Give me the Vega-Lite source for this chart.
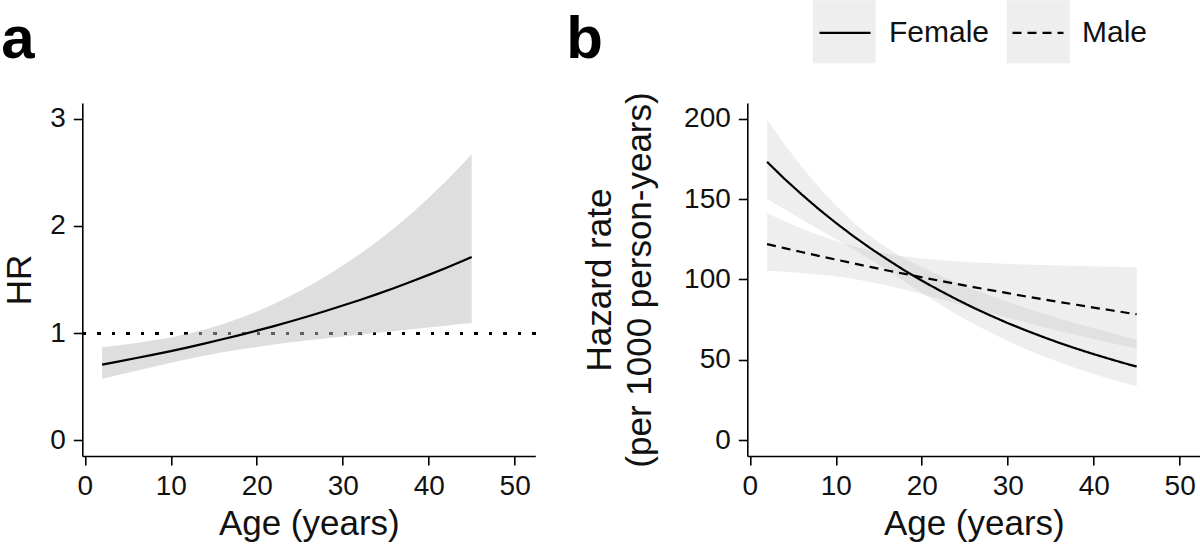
{
  "$schema": "https://vega.github.io/schema/vega-lite/v6.json",
  "padding": {"left": 1.3, "top": 0, "right": 0, "bottom": 0},
  "bounds": "flush",
  "spacing": 212,
  "datasets": {
    "hr": [
      {"age": 2, "hr": 0.707, "lo": 0.576, "hi": 0.868},
      {"age": 4, "hr": 0.737, "lo": 0.612, "hi": 0.887},
      {"age": 6, "hr": 0.768, "lo": 0.649, "hi": 0.908},
      {"age": 8, "hr": 0.8, "lo": 0.686, "hi": 0.933},
      {"age": 10, "hr": 0.833, "lo": 0.723, "hi": 0.96},
      {"age": 12, "hr": 0.868, "lo": 0.758, "hi": 0.994},
      {"age": 14, "hr": 0.905, "lo": 0.791, "hi": 1.035},
      {"age": 16, "hr": 0.943, "lo": 0.821, "hi": 1.083},
      {"age": 18, "hr": 0.982, "lo": 0.848, "hi": 1.138},
      {"age": 20, "hr": 1.023, "lo": 0.871, "hi": 1.201},
      {"age": 22, "hr": 1.066, "lo": 0.894, "hi": 1.272},
      {"age": 24, "hr": 1.111, "lo": 0.914, "hi": 1.35},
      {"age": 26, "hr": 1.157, "lo": 0.933, "hi": 1.435},
      {"age": 28, "hr": 1.206, "lo": 0.951, "hi": 1.529},
      {"age": 30, "hr": 1.257, "lo": 0.969, "hi": 1.63},
      {"age": 32, "hr": 1.309, "lo": 0.986, "hi": 1.738},
      {"age": 34, "hr": 1.364, "lo": 1.003, "hi": 1.855},
      {"age": 36, "hr": 1.421, "lo": 1.02, "hi": 1.98},
      {"age": 38, "hr": 1.481, "lo": 1.037, "hi": 2.116},
      {"age": 40, "hr": 1.543, "lo": 1.053, "hi": 2.261},
      {"age": 42, "hr": 1.608, "lo": 1.07, "hi": 2.416},
      {"age": 44, "hr": 1.675, "lo": 1.087, "hi": 2.582},
      {"age": 45, "hr": 1.71, "lo": 1.095, "hi": 2.67}
    ],
    "haz": [
      {"age": 2, "sex": "Female", "rate": 173.1, "lo": 150.2, "hi": 199.5},
      {"age": 4, "sex": "Female", "rate": 162.7, "lo": 143.7, "hi": 184.2},
      {"age": 6, "sex": "Female", "rate": 153.0, "lo": 137.5, "hi": 170.2},
      {"age": 8, "sex": "Female", "rate": 143.8, "lo": 131.3, "hi": 157.5},
      {"age": 10, "sex": "Female", "rate": 135.2, "lo": 125.2, "hi": 146.0},
      {"age": 12, "sex": "Female", "rate": 127.1, "lo": 119.0, "hi": 135.8},
      {"age": 14, "sex": "Female", "rate": 119.5, "lo": 112.5, "hi": 127.0},
      {"age": 16, "sex": "Female", "rate": 112.4, "lo": 105.7, "hi": 119.5},
      {"age": 18, "sex": "Female", "rate": 105.6, "lo": 98.6, "hi": 113.1},
      {"age": 20, "sex": "Female", "rate": 99.3, "lo": 91.6, "hi": 107.6},
      {"age": 22, "sex": "Female", "rate": 93.4, "lo": 85.0, "hi": 102.7},
      {"age": 24, "sex": "Female", "rate": 87.8, "lo": 78.6, "hi": 98.1},
      {"age": 26, "sex": "Female", "rate": 82.5, "lo": 72.5, "hi": 93.8},
      {"age": 28, "sex": "Female", "rate": 77.6, "lo": 67.0, "hi": 89.9},
      {"age": 30, "sex": "Female", "rate": 72.9, "lo": 61.8, "hi": 86.0},
      {"age": 32, "sex": "Female", "rate": 68.6, "lo": 57.0, "hi": 82.5},
      {"age": 34, "sex": "Female", "rate": 64.5, "lo": 52.6, "hi": 79.1},
      {"age": 36, "sex": "Female", "rate": 60.6, "lo": 48.5, "hi": 75.8},
      {"age": 38, "sex": "Female", "rate": 57.0, "lo": 44.7, "hi": 72.7},
      {"age": 40, "sex": "Female", "rate": 53.6, "lo": 41.2, "hi": 69.7},
      {"age": 42, "sex": "Female", "rate": 50.4, "lo": 38.0, "hi": 66.8},
      {"age": 44, "sex": "Female", "rate": 47.3, "lo": 35.0, "hi": 64.0},
      {"age": 45, "sex": "Female", "rate": 45.9, "lo": 33.6, "hi": 62.7},
      {"age": 2, "sex": "Male", "rate": 122.0, "lo": 105.4, "hi": 141.2},
      {"age": 4, "sex": "Male", "rate": 119.5, "lo": 104.8, "hi": 136.3},
      {"age": 6, "sex": "Male", "rate": 117.1, "lo": 104.1, "hi": 131.7},
      {"age": 8, "sex": "Male", "rate": 114.7, "lo": 103.1, "hi": 127.6},
      {"age": 10, "sex": "Male", "rate": 112.4, "lo": 102.0, "hi": 123.9},
      {"age": 12, "sex": "Male", "rate": 110.1, "lo": 100.5, "hi": 120.7},
      {"age": 14, "sex": "Male", "rate": 107.8, "lo": 98.5, "hi": 118.0},
      {"age": 16, "sex": "Male", "rate": 105.6, "lo": 96.3, "hi": 115.8},
      {"age": 18, "sex": "Male", "rate": 103.5, "lo": 93.7, "hi": 114.3},
      {"age": 20, "sex": "Male", "rate": 101.4, "lo": 91.0, "hi": 113.0},
      {"age": 22, "sex": "Male", "rate": 99.3, "lo": 88.0, "hi": 112.0},
      {"age": 24, "sex": "Male", "rate": 97.3, "lo": 85.1, "hi": 111.3},
      {"age": 26, "sex": "Male", "rate": 95.3, "lo": 82.1, "hi": 110.6},
      {"age": 28, "sex": "Male", "rate": 93.4, "lo": 79.2, "hi": 110.2},
      {"age": 30, "sex": "Male", "rate": 91.5, "lo": 76.3, "hi": 109.7},
      {"age": 32, "sex": "Male", "rate": 89.6, "lo": 73.5, "hi": 109.3},
      {"age": 34, "sex": "Male", "rate": 87.8, "lo": 70.7, "hi": 109.0},
      {"age": 36, "sex": "Male", "rate": 86.0, "lo": 68.0, "hi": 108.7},
      {"age": 38, "sex": "Male", "rate": 84.3, "lo": 65.5, "hi": 108.4},
      {"age": 40, "sex": "Male", "rate": 82.5, "lo": 63.0, "hi": 108.2},
      {"age": 42, "sex": "Male", "rate": 80.9, "lo": 60.6, "hi": 108.0},
      {"age": 44, "sex": "Male", "rate": 79.2, "lo": 58.2, "hi": 107.7},
      {"age": 45, "sex": "Male", "rate": 78.4, "lo": 57.1, "hi": 107.6}
    ]
  },
  "hconcat": [
    {
      "width": 453,
      "height": 353,
      "title": {"text": "a", "anchor": "start", "frame": "group", "fontSize": 60, "fontWeight": "bold", "color": "black", "dx": -81, "dy": 55, "offset": 40, "baseline": "alphabetic"},
      "data": {"name": "hr"},
      "layer": [
        {
          "mark": {"type": "rule", "color": "black", "strokeWidth": 2.5, "strokeDash": [2.5, 12]},
          "encoding": {"y": {"datum": 1, "type": "quantitative"}}
        },
        {
          "mark": {"type": "area", "color": "#bdbdbd", "opacity": 0.5},
          "encoding": {
            "x": {"field": "age", "type": "quantitative", "scale": {"domain": [-0.3, 52.4], "nice": false, "zero": false}, "axis": {"values": [0, 10, 20, 30, 40, 50], "title": "Age (years)", "titlePadding": 6}},
            "y": {"field": "lo", "type": "quantitative", "stack": null, "scale": {"domain": [-0.145, 3.145], "nice": false, "zero": false}, "axis": {"values": [0, 1, 2, 3], "format": "d", "title": "HR", "titlePadding": 12}},
            "y2": {"field": "hi"}
          }
        },
        {
          "mark": {"type": "line", "color": "black", "strokeWidth": 2.2},
          "encoding": {
            "x": {"field": "age", "type": "quantitative"},
            "y": {"field": "hr", "type": "quantitative"}
          }
        }
      ]
    },
    {
      "width": 453,
      "height": 353,
      "title": {"text": "b", "anchor": "start", "frame": "group", "fontSize": 60, "fontWeight": "bold", "color": "black", "dx": -181, "dy": 66, "offset": 40, "baseline": "alphabetic"},
      "data": {"name": "haz"},
      "layer": [
        {
          "mark": {"type": "area", "opacity": 0.25},
          "encoding": {
            "x": {"field": "age", "type": "quantitative", "scale": {"domain": [-0.3, 52.4], "nice": false, "zero": false}, "axis": {"values": [0, 10, 20, 30, 40, 50], "title": "Age (years)", "titlePadding": 6}},
            "y": {"field": "lo", "type": "quantitative", "stack": null, "scale": {"domain": [-9.7, 209.7], "nice": false, "zero": false}, "axis": {"values": [0, 50, 100, 150, 200], "format": "d", "title": ["Hazard rate", "(per 1000 person-years)"], "titlePadding": 26, "titleLineHeight": 40}},
            "y2": {"field": "hi"},
            "fill": {"field": "sex", "type": "nominal", "scale": {"domain": ["Female", "Male"], "range": ["#bdbdbd", "#bdbdbd"]},
              "legend": {"orient": "none", "legendX": 730.4, "legendY": -102.7, "direction": "horizontal", "title": null, "symbolType": "square", "symbolSize": 3969, "symbolOpacity": 0.25, "symbolStrokeWidth": 0, "labelExpr": "''", "labelOffset": 8, "columnPadding": 123}}
          }
        },
        {
          "mark": {"type": "line", "color": "black", "strokeWidth": 2.2},
          "encoding": {
            "x": {"field": "age", "type": "quantitative"},
            "y": {"field": "rate", "type": "quantitative"},
            "strokeDash": {"field": "sex", "type": "nominal", "scale": {"range": [[1, 0], [9, 6]]},
              "legend": {"orient": "none", "legendX": 735.7, "legendY": -97.2, "direction": "horizontal", "title": null, "symbolType": "stroke", "symbolSize": 2601, "symbolStrokeWidth": 2.2, "symbolStrokeColor": "black", "labelOffset": 17, "columnPadding": 18}}
          }
        }
      ]
    }
  ],
  "resolve": {"scale": {"x": "independent", "y": "independent"}},
  "config": {
    "font": "Liberation Sans",
    "view": {"stroke": null},
    "axis": {"grid": false, "domainColor": "black", "domainWidth": 1.6, "tickColor": "black", "tickWidth": 1.6, "tickSize": 9, "labelFontSize": 28, "labelColor": "#111111", "titleFontSize": 35, "titleFontWeight": "normal", "titleColor": "#111111", "labelPadding": 8, "labelFlush": false, "labelOverlap": false},
    "legend": {"labelFontSize": 30, "labelColor": "#111111", "padding": 0}
  }
}
